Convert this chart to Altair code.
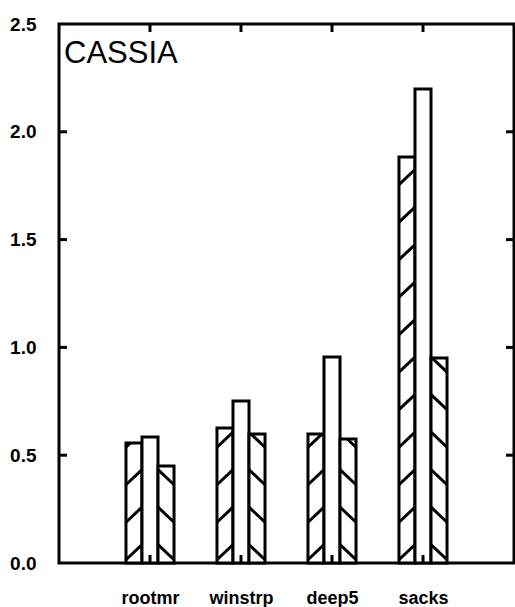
import json
import altair as alt
import pandas as pd

# ---- data ----
categories = ["rootmr", "winstrp", "deep5", "sacks"]
hatch_fwd = [0.557, 0.626, 0.598, 1.883]   # first bar, "/" hatching
plain = [0.584, 0.751, 0.955, 2.198]       # middle bar, empty
hatch_back = [0.450, 0.598, 0.575, 0.951]  # third bar, "\" hatching
y_tick_values = [0.0, 0.5, 1.0, 1.5, 2.0, 2.5]
title_text = "CASSIA"

# ---- geometry (data units) ----
BAR_W = 0.176
SPACING = 0.174
RISE = 0.07
PHASE = 0.015
X_DOMAIN = [0, 5]
Y_DOMAIN = [0, 2.5]

series = [("fwd", hatch_fwd, -BAR_W), ("plain", plain, 0.0), ("back", hatch_back, BAR_W)]

bar_rows, hatch_rows = [], []
for i, cat in enumerate(categories):
    for kind, vals, off in series:
        v = vals[i]
        x0 = i + 1 + off - BAR_W / 2
        x1 = i + 1 + off + BAR_W / 2
        bar_rows.append({"cat": cat, "kind": kind, "x": x0, "x2": x1, "y": 0.0, "y2": v})
        if kind == "plain":
            continue
        low = PHASE
        while low < v - 0.005:
            high = low + RISE
            if kind == "fwd":
                xa, ya = x0, low
                if high <= v:
                    xb, yb = x1, high
                else:
                    xb, yb = x0 + (v - low) / RISE * BAR_W, v
            else:
                xb, yb = x1, low
                if high <= v:
                    xa, ya = x0, high
                else:
                    xa, ya = x1 - (v - low) / RISE * BAR_W, v
            hatch_rows.append({"xa": xa, "xb": xb, "ya": ya, "yb": yb})
            low += SPACING

bars_df = pd.DataFrame(bar_rows)
hatch_df = pd.DataFrame(hatch_rows)

TX = 0.088   # inward tick length in x units
TY = 0.037   # inward tick length in y units
tick_rows = []
for t in y_tick_values[1:-1]:
    tick_rows.append({"xa": X_DOMAIN[0], "xb": X_DOMAIN[0] + TX, "ya": t, "yb": t})
    tick_rows.append({"xa": X_DOMAIN[1], "xb": X_DOMAIN[1] - TX, "ya": t, "yb": t})
for i in range(len(categories)):
    p = i + 1
    tick_rows.append({"xa": p, "xb": p, "ya": Y_DOMAIN[0], "yb": Y_DOMAIN[0] + TY})
    tick_rows.append({"xa": p, "xb": p, "ya": Y_DOMAIN[1], "yb": Y_DOMAIN[1] - TY})
ticks_df = pd.DataFrame(tick_rows)

xscale = alt.Scale(domain=X_DOMAIN, nice=False, zero=False)
yscale = alt.Scale(domain=Y_DOMAIN, nice=False)

label_expr = json.dumps(categories) + "[datum.value - 1]"

x_axis = alt.Axis(
    values=[1, 2, 3, 4], labelExpr=label_expr, title=None, grid=False,
    ticks=False, tickSize=0, domain=False, labelPadding=40,
    labelBaseline="alphabetic",
    labelFont="Liberation Sans", labelFontWeight="bold", labelFontSize=18,
    labelColor="black", labelFlush=False, labelOverlap=False,
)
y_axis = alt.Axis(
    values=y_tick_values, format=".1f", title=None, grid=False,
    ticks=False, tickSize=0, domain=False, labelPadding=23,
    labelFont="Liberation Sans", labelFontWeight="bold", labelFontSize=19,
    labelColor="black", labelFlush=False, labelOverlap=False, labelBaseline="middle",
)

bars = alt.Chart(bars_df).mark_rect(fill="white", stroke="black", strokeWidth=3).encode(
    x=alt.X("x:Q", scale=xscale, axis=x_axis),
    x2="x2",
    y=alt.Y("y:Q", scale=yscale, axis=y_axis),
    y2="y2",
)

hatch = alt.Chart(hatch_df).mark_rule(color="black", strokeWidth=3).encode(
    x=alt.X("xa:Q", scale=xscale, axis=x_axis),
    x2="xb",
    y=alt.Y("ya:Q", scale=yscale, axis=y_axis),
    y2="yb",
)

ticks = alt.Chart(ticks_df).mark_rule(color="black", strokeWidth=3).encode(
    x=alt.X("xa:Q", scale=xscale, axis=x_axis),
    x2="xb",
    y=alt.Y("ya:Q", scale=yscale, axis=y_axis),
    y2="yb",
)

label = alt.Chart(pd.DataFrame({"t": [title_text]})).mark_text(
    font="Liberation Sans", fontSize=31, align="left", baseline="alphabetic", color="black"
).encode(text="t:N", x=alt.value(5), y=alt.value(39))

chart = (
    alt.layer(bars, hatch, ticks, label)
    .properties(
        width=455, height=539, autosize="none",
        padding={"left": 59, "top": 24, "right": 1, "bottom": 44},
        background="white",
    )
    .configure_view(stroke="black", strokeWidth=3)
)

chart.save("out.html", embed_options={"renderer": "svg", "actions": False})
